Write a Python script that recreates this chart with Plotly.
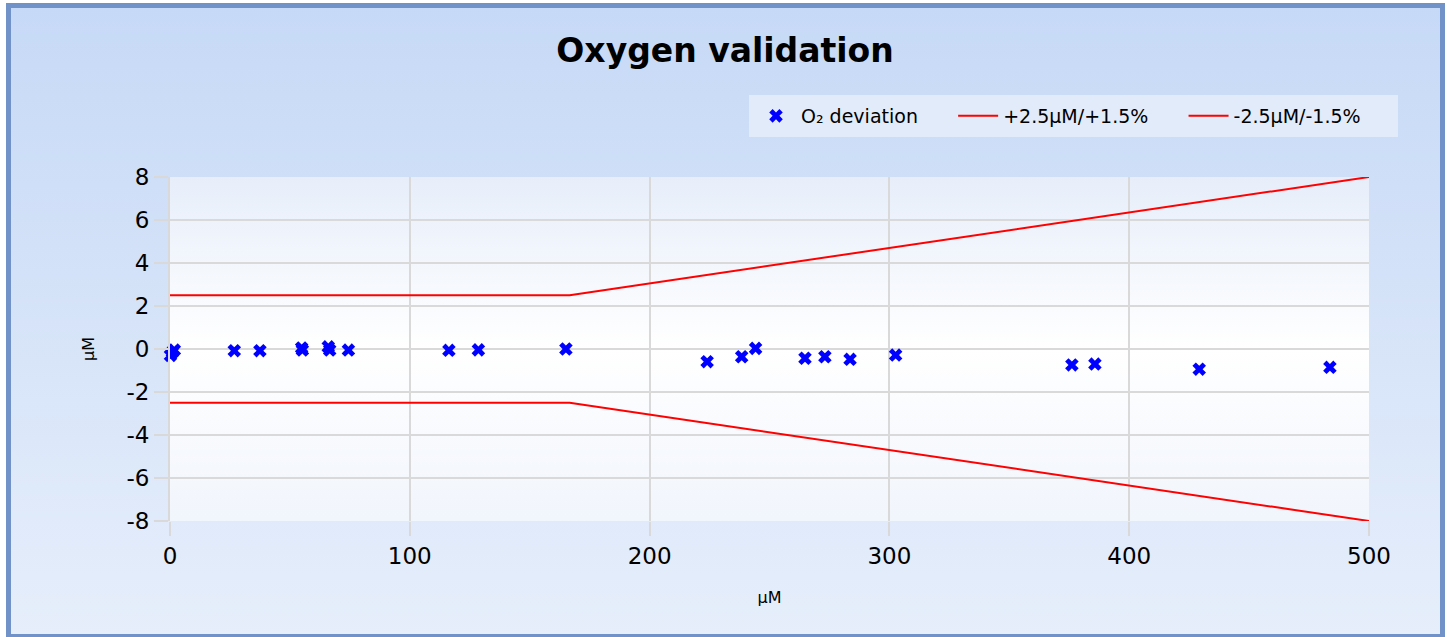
import base64
import plotly.graph_objects as go

# ---- data ----
o2_x = [0.2, 1.0, 1.8, 26.8, 37.5, 54.9, 55.2, 66.0, 66.6, 74.4, 116.3, 128.6,
        165.1, 224.0, 238.4, 244.2, 264.8, 273.1, 283.6, 302.6, 376.1, 385.7,
        429.2, 483.7]
o2_y = [-0.3, -0.15, -0.05, -0.08, -0.08, 0.05, -0.05, 0.1, -0.05, -0.05, -0.06, -0.04,
        0.0, -0.59, -0.36, 0.03, -0.43, -0.36, -0.48, -0.28, -0.74, -0.70,
        -0.94, -0.85]
upper_x = [0, 166.67, 500]
upper_y = [2.5, 2.5, 8]
lower_x = [0, 166.67, 500]
lower_y = [-2.5, -2.5, -8]
x_ticks = [0, 100, 200, 300, 400, 500]
y_ticks = [-8, -6, -4, -2, 0, 2, 4, 6, 8]
y_tick_labels = ["-8", "-6", "-4", "-2", "0", "2", "4", "6", "8"]

W, H = 1450, 637
L, R, T, B = 170, 81, 177, 116
pw, ph = W - L - R, H - T - B

bg_svg = f'''<svg xmlns="http://www.w3.org/2000/svg" width="{W}" height="{H}" viewBox="0 0 {W} {H}" preserveAspectRatio="none">
<defs><linearGradient id="g" x1="0" y1="0" x2="0" y2="1">
<stop offset="0" stop-color="#c6d9f6"/><stop offset="1" stop-color="#e6eefb"/></linearGradient></defs>
<rect x="0" y="0" width="{W}" height="{H}" fill="#ffffff"/>
<rect x="8.5" y="5.5" width="1434" height="631" fill="url(#g)" stroke="#7092c8" stroke-width="5"/>
</svg>'''
plot_svg = f'''<svg xmlns="http://www.w3.org/2000/svg" width="{pw}" height="{ph}" viewBox="0 0 {pw} {ph}" preserveAspectRatio="none">
<defs><linearGradient id="p" x1="0" y1="0" x2="0" y2="1">
<stop offset="0" stop-color="#e7eefa"/><stop offset="0.5" stop-color="#ffffff"/><stop offset="1" stop-color="#f1f5fc"/></linearGradient></defs>
<rect x="0" y="0" width="{pw}" height="{ph}" fill="url(#p)"/></svg>'''

def uri(s):
    return "data:image/svg+xml;base64," + base64.b64encode(s.encode()).decode()

pad = "\u00a0" * 5
fig = go.Figure()
fig.add_trace(go.Scatter(x=o2_x, y=o2_y, mode="markers", name="O\u2082 deviation" + pad,
                         marker=dict(symbol="x", size=12, color="#0000ff"),
                         cliponaxis=False))
fig.add_trace(go.Scatter(x=upper_x, y=upper_y, mode="lines", name="+2.5\u03bcM/+1.5%" + pad,
                         line=dict(color="#ff0000", width=2)))
fig.add_trace(go.Scatter(x=lower_x, y=lower_y, mode="lines", name="-2.5\u03bcM/-1.5%" + pad,
                         line=dict(color="#ff0000", width=2)))

fig.update_layout(
    width=W, height=H,
    margin=dict(l=L, r=R, t=T, b=B, pad=0),
    paper_bgcolor="#d6e4f8",
    plot_bgcolor="rgba(0,0,0,0)",
    font=dict(family="DejaVu Sans", color="#000000"),
    title=dict(text="<b>Oxygen validation</b>", x=0.5, xanchor="center",
               y=1 - 50 / H, yanchor="middle", font=dict(size=33)),
    showlegend=True,
    legend=dict(orientation="h", x=(1398 - L) / pw, xanchor="right",
                y=1 + (T - 95) / ph, yanchor="top",
                bgcolor="#e2ebf9", font=dict(size=19, family="DejaVu Sans"),
                borderwidth=2, bordercolor="#e2ebf9",
                itemwidth=40, tracegroupgap=0),
    images=[
        dict(source=uri(bg_svg), xref="paper", yref="paper",
             x=-L / pw, y=1 + T / ph, sizex=W / pw, sizey=H / ph,
             xanchor="left", yanchor="top", sizing="stretch", layer="below"),
        dict(source=uri(plot_svg), xref="paper", yref="paper",
             x=0, y=1, sizex=1, sizey=1,
             xanchor="left", yanchor="top", sizing="stretch", layer="below"),
    ],
    xaxis=dict(range=[0, 500], tickvals=x_ticks, showgrid=True, gridcolor="#d9d9d9",
               gridwidth=2, zeroline=False, ticks="outside", ticklen=14,
               tickcolor="#d9d9d9", tickwidth=2, showline=False,
               tickfont=dict(size=23), title=dict(text="\u03bcM", font=dict(size=16), standoff=24)),
    yaxis=dict(range=[-8, 8], tickvals=y_ticks, ticktext=y_tick_labels, showgrid=True,
               gridcolor="#d9d9d9",
               gridwidth=2, zeroline=False, ticks="outside", ticklen=14,
               tickcolor="#d9d9d9", tickwidth=2, showline=True, linecolor="#d9d9d9",
               linewidth=2, tickfont=dict(size=23),
               title=dict(text="\u03bcM", font=dict(size=16), standoff=28)),
)

fig.write_html("out.html", config={"displayModeBar": False},
               post_script="document.body.style.margin='0';document.body.style.overflow='hidden';")
